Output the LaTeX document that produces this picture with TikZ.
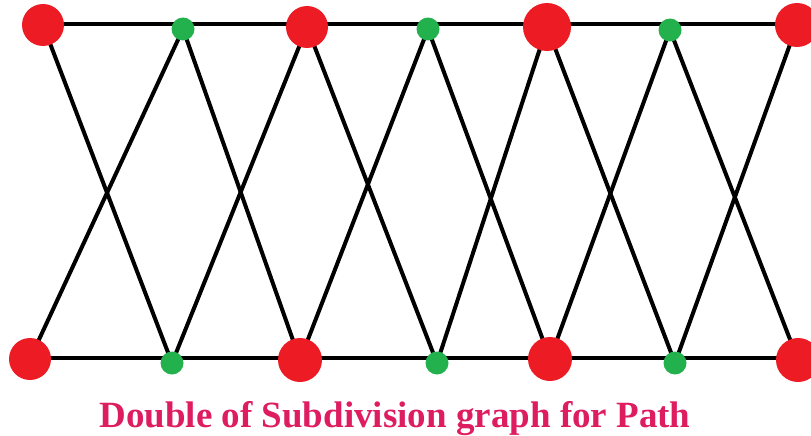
\documentclass[tikz,border=0pt]{standalone}
\usepackage{fontspec}
\setmainfont{Liberation Serif}
\definecolor{nodered}{RGB}{237,28,36}
\definecolor{nodegreen}{RGB}{34,177,76}
\definecolor{titlecol}{RGB}{222,28,96}
\begin{document}
\begin{tikzpicture}[x=1pt,y=-1pt,
  rednode/.style={circle,fill=nodered,inner sep=0pt,minimum size=#1},
  rednode/.default=42pt,
  greennode/.style={circle,fill=nodegreen,inner sep=0pt,minimum size=23pt},
  edge/.style={line width=4pt,black}]
\useasboundingbox (0,0) rectangle (811,436);
\coordinate (T1) at (43,25);  \coordinate (G1) at (183,29);
\coordinate (T2) at (307,27); \coordinate (G2) at (428,29);
\coordinate (T3) at (547,27); \coordinate (G3) at (670,30);
\coordinate (T4) at (797,25);
\coordinate (B1) at (30,359);  \coordinate (H1) at (172,363);
\coordinate (B2) at (300,360); \coordinate (H2) at (437,363);
\coordinate (B3) at (550,359); \coordinate (H3) at (675,363);
\coordinate (B4) at (798,360);
\draw[edge] (43,24) -- (811,24);
\draw[edge] (30,358) -- (811,358);
\foreach \a/\b in {T1/H1,G1/B1,G1/B2,T2/H1,T2/H2,G2/B2,G2/B3,T3/H2,T3/H3,G3/B3,G3/B4,T4/H3}
  \draw[edge] (\a) -- (\b);
\node[rednode] (t1) at (T1) {};
\node[rednode] (t2) at (T2) {};
\node[rednode=48pt] (t3) at (T3) {};
\node[rednode=44pt] (t4) at (T4) {};
\node[rednode] (b1) at (B1) {};
\node[rednode=44pt] (b2) at (B2) {};
\node[rednode=44pt] (b3) at (B3) {};
\node[rednode=44pt] (b4) at (B4) {};
\node[greennode] (g1) at (G1) {};
\node[greennode] (g2) at (G2) {};
\node[greennode] (g3) at (G3) {};
\node[greennode] (h1) at (H1) {};
\node[greennode] (h2) at (H2) {};
\node[greennode] (h3) at (H3) {};
\node[anchor=base,inner sep=0pt,text=titlecol,font=\fontsize{37}{40}\selectfont\bfseries] (title) at (395,427) {Double of Subdivision graph for Path};
\end{tikzpicture}
\end{document}
